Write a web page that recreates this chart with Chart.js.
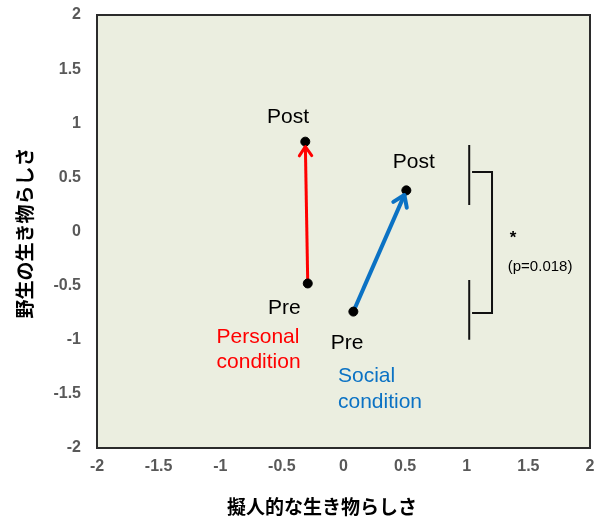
<!DOCTYPE html>
<html>
<head>
<meta charset="utf-8">
<script src="https://cdn.jsdelivr.net/npm/chart.js@4/dist/chart.umd.min.js"></script>
<style>
  html, body { margin: 0; padding: 0; background: #ffffff; }
  #c { display: block; }
</style>
</head>
<body>
<canvas id="c" width="600" height="524"></canvas>
<script>
// Axis ticks
const xTicks = [-2, -1.5, -1, -0.5, 0, 0.5, 1, 1.5, 2];
const yTicks = [-2, -1.5, -1, -0.5, 0, 0.5, 1, 1.5, 2];

// Conditions and their pre / post means (x: 擬人的, y: 野生)
const conditions = ['Personal condition', 'Social condition'];
const preX  = [-0.29, 0.08];
const preY  = [-0.48, -0.74];
const postX = [-0.31, 0.51];
const postY = [0.83, 0.38];

// Significance note
const starText = '*';
const pText = '(p=0.018)';

const AXIS_X_TITLE = '擬人的な生き物らしさ';
const AXIS_Y_TITLE = '野生の生き物らしさ';

const RED = '#ff0000';
const BLUE = '#0b72c4';
const TICK_COLOR = '#595959';
const PLOT_BG = '#ebeee0';

// Bracket segments in data units
const bracketSegments = [
  [[1.02, 0.80], [1.02, 0.245]],
  [[1.02, -0.448], [1.02, -1.0]],
  [[1.043, 0.55], [1.205, 0.55], [1.205, -0.753], [1.043, -0.753]]
];

const datasets = [];
const arrowColors = [RED, BLUE];
const arrowWidths = [3, 4];
conditions.forEach((name, i) => {
  datasets.push({
    label: name,
    data: [{ x: preX[i], y: preY[i] }, { x: postX[i], y: postY[i] }],
    showLine: true,
    borderColor: arrowColors[i],
    borderWidth: arrowWidths[i],
    pointRadius: 0,
    arrow: true,
    order: 2
  });
});
bracketSegments.forEach((seg, i) => {
  datasets.push({
    label: 'bracket' + i,
    data: seg.map(p => ({ x: p[0], y: p[1] })),
    showLine: true,
    borderColor: '#111111',
    borderWidth: 2,
    pointRadius: 0,
    order: 3
  });
});
datasets.push({
  label: 'points',
  data: preX.map((x, i) => ({ x, y: preY[i] })).concat(postX.map((x, i) => ({ x, y: postY[i] }))),
  showLine: false,
  backgroundColor: '#000000',
  borderColor: '#000000',
  pointRadius: 4.5,
  order: 1
});

// Plot background and frame
const framePlugin = {
  id: 'frame',
  beforeDraw(chart) {
    const { ctx, chartArea: a } = chart;
    ctx.save();
    ctx.fillStyle = PLOT_BG;
    ctx.fillRect(a.left, a.top, a.right - a.left, a.bottom - a.top);
    ctx.restore();
  },
  afterDraw(chart) {
    const { ctx, chartArea: a } = chart;
    ctx.save();
    ctx.strokeStyle = '#2b2b2b';
    ctx.lineWidth = 2;
    ctx.strokeRect(a.left, a.top, a.right - a.left, a.bottom - a.top);
    ctx.restore();
  }
};

// Open chevron heads at the post end of each arrow
const arrowPlugin = {
  id: 'arrowHeads',
  afterDatasetsDraw(chart) {
    const { ctx } = chart;
    chart.data.datasets.forEach((ds, i) => {
      if (!ds.arrow) return;
      const pts = chart.getDatasetMeta(i).data;
      const p0 = pts[0], p1 = pts[1];
      const ang = Math.atan2(p1.y - p0.y, p1.x - p0.x);
      const back = 5;
      const tx = p1.x - back * Math.cos(ang);
      const ty = p1.y - back * Math.sin(ang);
      const len = ds.borderWidth > 3 ? 13 : 11;
      const spread = 0.6;
      ctx.save();
      ctx.strokeStyle = ds.borderColor;
      ctx.lineWidth = ds.borderWidth;
      ctx.lineCap = 'round';
      ctx.lineJoin = 'round';
      ctx.beginPath();
      ctx.moveTo(tx - len * Math.cos(ang - spread), ty - len * Math.sin(ang - spread));
      ctx.lineTo(tx, ty);
      ctx.lineTo(tx - len * Math.cos(ang + spread), ty - len * Math.sin(ang + spread));
      ctx.stroke();
      ctx.restore();
    });
  }
};

// Point and condition labels placed in data units
const textLabels = [
  { t: 'Post', x: -0.45, y: 1.06, c: '#000000', a: 'center' },
  { t: 'Pre', x: -0.48, y: -0.71, c: '#000000', a: 'center' },
  { t: 'Post', x: 0.57, y: 0.64, c: '#000000', a: 'center' },
  { t: 'Pre', x: 0.03, y: -1.03, c: '#000000', a: 'center' },
  { t: conditions[0].split(' ')[0], x: -1.03, y: -0.98, c: RED, a: 'left' },
  { t: conditions[0].split(' ')[1], x: -1.03, y: -1.21, c: RED, a: 'left' },
  { t: conditions[1].split(' ')[0], x: -0.045, y: -1.34, c: BLUE, a: 'left' },
  { t: conditions[1].split(' ')[1], x: -0.045, y: -1.575, c: BLUE, a: 'left' }
];

const labelPlugin = {
  id: 'labels',
  afterDraw(chart) {
    const { ctx } = chart;
    const xs = chart.scales.x, ys = chart.scales.y;
    ctx.save();
    ctx.textBaseline = 'middle';
    ctx.font = '21px "Liberation Sans", Arial, sans-serif';
    textLabels.forEach(l => {
      ctx.fillStyle = l.c;
      ctx.textAlign = l.a;
      ctx.fillText(l.t, xs.getPixelForValue(l.x), ys.getPixelForValue(l.y));
    });
    ctx.fillStyle = '#000000';
    ctx.textAlign = 'center';
    ctx.font = 'bold 17px "Liberation Sans", Arial, sans-serif';
    ctx.fillText(starText, xs.getPixelForValue(1.375), ys.getPixelForValue(-0.06));
    ctx.font = '15px "Liberation Sans", Arial, sans-serif';
    ctx.fillText(pText, xs.getPixelForValue(1.595), ys.getPixelForValue(-0.33));

    // Axis titles
    ctx.font = 'bold 19px "Noto Sans CJK JP", sans-serif';
    ctx.fillText(AXIS_X_TITLE, 322, 507);
    ctx.translate(25, 233);
    ctx.rotate(-Math.PI / 2);
    ctx.fillText(AXIS_Y_TITLE, 0, 0);
    ctx.restore();
  }
};

const tickFont = { family: '"Liberation Sans", Arial, sans-serif', size: 16, weight: 'bold' };

new Chart(document.getElementById('c'), {
  type: 'scatter',
  data: { datasets },
  options: {
    responsive: false,
    devicePixelRatio: 1,
    animation: false,
    layout: { padding: { left: 0, right: 10, top: 15, bottom: 0 } },
    plugins: { legend: { display: false }, tooltip: { enabled: false } },
    scales: {
      x: {
        type: 'linear',
        min: xTicks[0],
        max: xTicks[xTicks.length - 1],
        afterBuildTicks: s => { s.ticks = xTicks.map(v => ({ value: v })); },
        afterFit: s => { s.height = 76; s.paddingLeft = 0; s.paddingRight = 0; },
        grid: { display: false, drawTicks: false },
        border: { display: false },
        ticks: { color: TICK_COLOR, font: tickFont, padding: 9, maxRotation: 0, autoSkip: false,
                 callback: v => String(v) }
      },
      y: {
        type: 'linear',
        min: yTicks[0],
        max: yTicks[yTicks.length - 1],
        afterBuildTicks: s => { s.ticks = yTicks.map(v => ({ value: v })); },
        afterFit: s => { s.width = 97; s.paddingTop = 0; s.paddingBottom = 0; },
        grid: { display: false, drawTicks: false },
        border: { display: false },
        ticks: { color: TICK_COLOR, font: tickFont, padding: 16, autoSkip: false,
                 callback: v => String(v) }
      }
    }
  },
  plugins: [framePlugin, arrowPlugin, labelPlugin]
});
</script>
</body>
</html>
